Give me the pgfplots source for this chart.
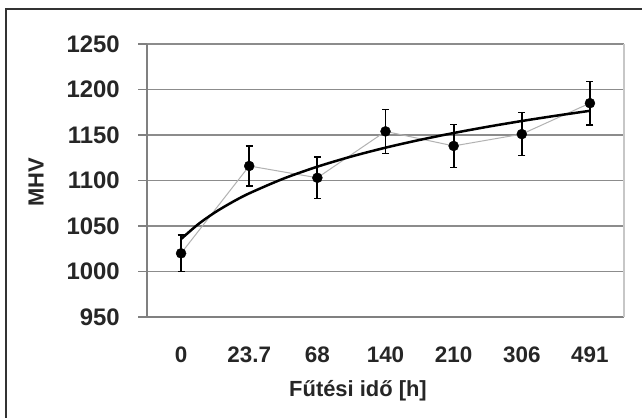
\documentclass[border=0pt]{standalone}
\usepackage{fontspec}
\setmainfont{Liberation Sans}
\usepackage{pgfplots}
\pgfplotsset{compat=1.18}
\begin{document}
\begin{tikzpicture}[x=1bp,y=1bp]
\useasboundingbox (0,0) rectangle (642,417);
\fill[white] (0,0) rectangle (642,417);
\draw[line width=2.5bp, black!80] (6,-3) -- (6,408) -- (645,408);
\begin{axis}[
  at={(147bp,100bp)}, anchor=south west,
  width=477bp, height=273bp, scale only axis,
  xmin=0.5, xmax=7.5, ymin=950, ymax=1250,
  ytick={950,1000,...,1250},
  xtick={1,...,7}, xticklabels={0,23.7,68,140,210,306,491},
  axis x line*=bottom, axis y line*=left,
  axis line style={black!50, line width=1.2bp},
  ymajorgrids, grid style={black!45, line width=1.2bp},
  tick align=outside,
  major tick length=9bp,
  xtick style={draw=none},
  ytick style={black!50, line width=1.2bp},
  /pgf/number format/.cd, 1000 sep={}, assume math mode=true,
  /pgfplots/.cd,
  yticklabel style={font=\fontsize{24}{24}\selectfont\bfseries, text=black!85, inner sep=0pt, anchor=east, xshift=-18bp},
  xticklabel style={font=\fontsize{22.5}{22.5}\selectfont\bfseries, text=black!85, inner sep=0pt, anchor=north, yshift=-21bp},
  clip=false,
]
\draw[black!22, line width=2.5bp] (rel axis cs:1,0) -- (rel axis cs:1,1);
\pgfplotsinvokeforeach{1.5,2.5,3.5,4.5,5.5,6.5}{
  \draw[black!50, line width=1.2bp] (axis cs:#1,950) ++(0,5bp) -- ++(0,-15bp);
}
% thin grey connecting line
\addplot[black!30, line width=1bp] coordinates {
 (1,1020) (2,1116) (3,1103) (4,1154) (5,1138) (6,1151) (7,1185)};
% logarithmic trend
\addplot[black, line width=2.5bp, smooth] coordinates {
 (1,1035.7) (1.25,1051.9) (1.5,1065.1) (1.75,1076.2) (2,1085.9) (2.5,1102.0)
 (3,1115.2) (3.5,1126.4) (4,1136.1) (4.5,1144.6) (5,1152.2) (5.5,1159.1)
 (6,1165.4) (6.5,1171.2) (7,1176.6)};
% data with error bars
\addplot[only marks, mark=*, mark size=5bp, black,
  error bars/.cd, y dir=both, y explicit,
  error bar style={black, line width=1.8bp},
  error mark options={rotate=90, black, mark size=3.5bp, line width=1.4bp}]
 table[x=x, y=y, y error=e] {
 x y e
 1 1020 20
 2 1116 22
 3 1103 23
 4 1154 24
 5 1138 23.5
 6 1151 23.5
 7 1185 24
};
\end{axis}
\node[font=\fontsize{22}{22}\selectfont\bfseries, text=black!85, rotate=90, inner sep=0pt] at (36,234.5) {MHV};
\node[font=\fontsize{22}{22}\selectfont\bfseries, text=black!85, anchor=base, inner sep=0pt] at (358,20.5) {Fűtési idő [h]};
\end{tikzpicture}
\end{document}
